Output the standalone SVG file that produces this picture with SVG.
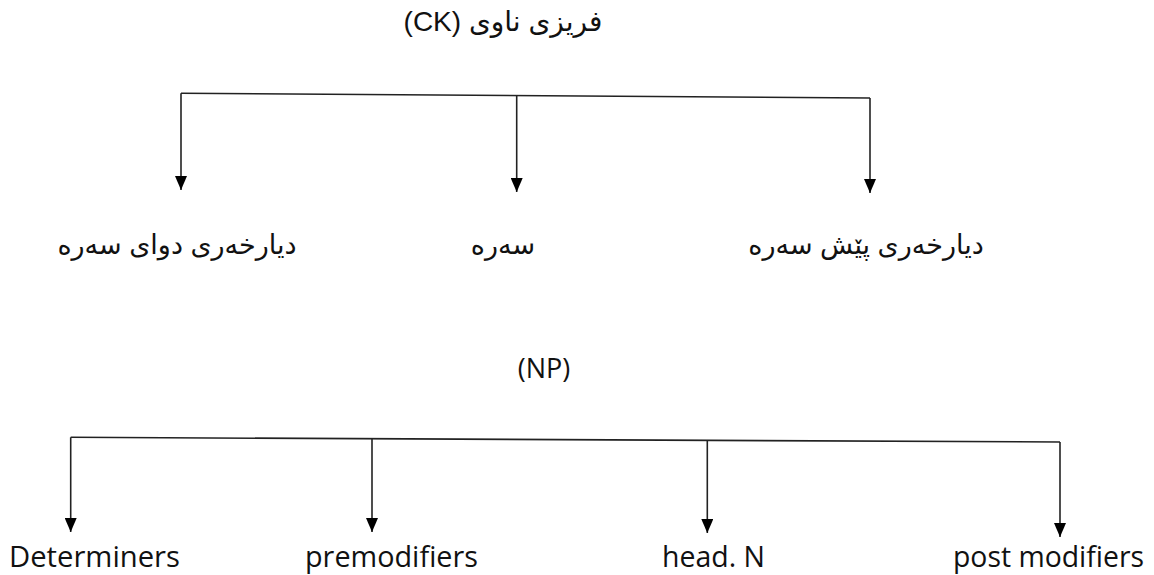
<svg xmlns="http://www.w3.org/2000/svg" width="1154" height="575" viewBox="0 0 1154 575">
<style>
.ar{font-family:"Liberation Sans","DejaVu Sans",sans-serif;font-size:27px;fill:#111;text-anchor:middle;direction:rtl}
.en{font-family:"Open Sans","Noto Sans",sans-serif;font-size:29px;fill:#111;text-anchor:middle}
.ln{stroke:#222;stroke-width:1.6;fill:none}
</style>
<defs>
<marker id="ah" viewBox="0 0 14 12" refX="14" refY="6" markerWidth="14" markerHeight="12" markerUnits="userSpaceOnUse" orient="auto">
<path d="M0,0 L14,6 L0,12 Z" fill="#000"/>
</marker>
</defs>
<rect width="1154" height="575" fill="#fff"/>
<g id="title-ck"><text class="ar" x="503" y="31" direction="rtl" style="font-size:28px">فریزی ناوی (CK)</text></g>
<g id="ck-post"><text class="ar" x="177" y="254" direction="rtl">دیارخەری دوای سەرە</text></g>
<g id="ck-head"><text class="ar" x="503" y="254" direction="rtl">سەرە</text></g>
<g id="ck-pre"><text class="ar" x="866" y="254" direction="rtl">دیارخەری پێش سەرە</text></g>
<g id="title-np"><text class="en" x="544" y="378" style="font-size:27px">(NP)</text></g>
<g id="np-det"><text class="en" x="94.5" y="567" textLength="171" lengthAdjust="spacingAndGlyphs">Determiners</text></g>
<g id="np-pre"><text class="en" x="391.5" y="567" textLength="173" lengthAdjust="spacingAndGlyphs">premodifiers</text></g>
<g id="np-head"><text class="en" x="713.5" y="567" textLength="103" lengthAdjust="spacingAndGlyphs">head. N</text></g>
<g id="np-post"><text class="en" x="1048.5" y="567" textLength="191" lengthAdjust="spacingAndGlyphs">post modifiers</text></g>
<g id="connectors">
<path class="ln" d="M181,93.3 L870,98"/>
<path class="ln" d="M181,93.3 V190" marker-end="url(#ah)"/>
<path class="ln" d="M516.7,95.6 V192" marker-end="url(#ah)"/>
<path class="ln" d="M870,98 V193" marker-end="url(#ah)"/>
<path class="ln" d="M70.7,437.3 L1060,442"/>
<path class="ln" d="M70.7,437.3 V532" marker-end="url(#ah)"/>
<path class="ln" d="M372,438.8 V532" marker-end="url(#ah)"/>
<path class="ln" d="M707.3,440.4 V533" marker-end="url(#ah)"/>
<path class="ln" d="M1060,442 V537" marker-end="url(#ah)"/>
</g>
</svg>
